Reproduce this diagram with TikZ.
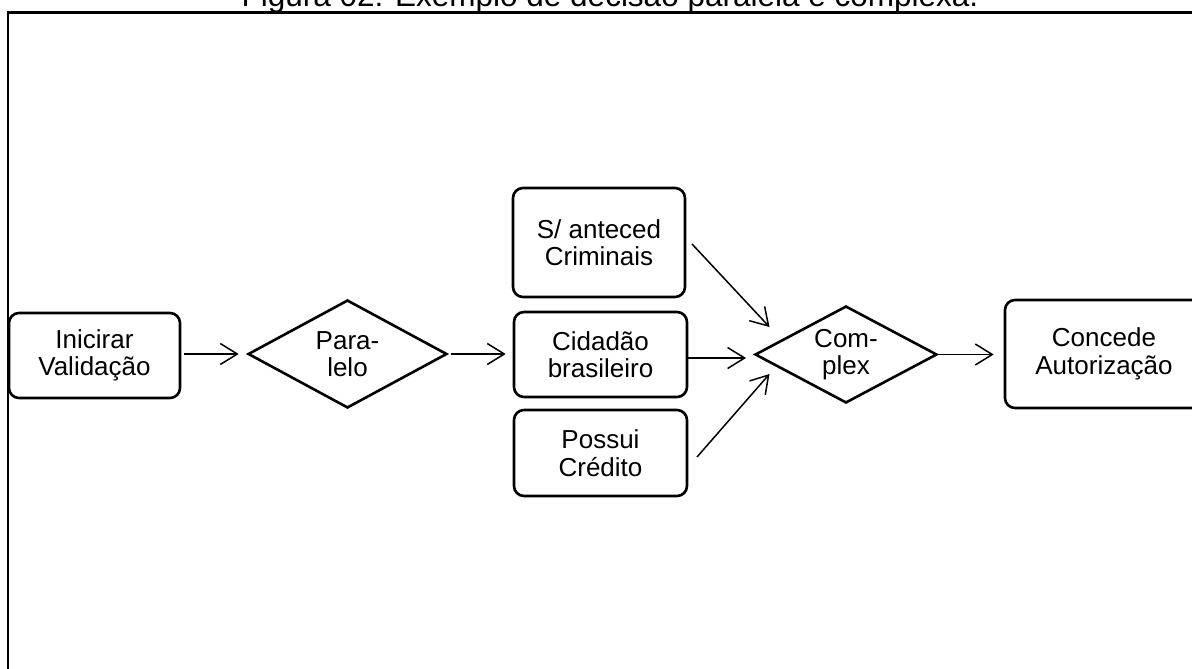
\documentclass[tikz,border=0pt]{standalone}
\usepackage{fontspec}
\setmainfont{Liberation Sans}
\usetikzlibrary{shapes.geometric,arrows.meta}
\newcommand\nfnt{\fontsize{26}{27.5}\selectfont}
\begin{document}
\begin{tikzpicture}[x=1pt,y=-1pt,
  box/.style={draw,line width=2.6pt,rounded corners=10pt,align=center,inner sep=0pt,font=\nfnt},
  dec/.style={draw,diamond,line width=2.6pt,align=center,inner sep=0pt,font=\nfnt},
  arr/.style={line width=1.5pt,-{Straight Barb[length=17pt,width=21pt,line width=1.5pt]}}]
\path[use as bounding box,clip] (0,0) rectangle (1192,669);
\draw[line width=2.4pt] (8,12.5) rectangle (1250,720);
\node[anchor=base,font=\fontsize{31.5}{33}\selectfont] (title) at (610,7) {Figura 02: Exemplo de decisão paralela e complexa.};
\node[box,minimum width=171pt,minimum height=85pt] (ini) at (94.5,355.5) {Inicirar\\Validação};
\node[dec,minimum width=199pt,minimum height=108pt,shape aspect=1.84] (par) at (347.5,354) {Para-\\lelo};
\node[box,minimum width=172pt,minimum height=109pt] (ant) at (599,242.5) {S/ anteced\\Criminais};
\node[box,minimum width=173pt,minimum height=85pt] (cid) at (600.5,354.5) {Cidadão\\brasileiro};
\node[box,minimum width=173pt,minimum height=86pt] (cre) at (600.5,453) {Possui\\Crédito};
\node[dec,minimum width=182pt,minimum height=97pt,shape aspect=1.88] (cpx) at (846,354.5) {Com-\\plex};
\node[box,minimum width=198pt,minimum height=108pt] (con) at (1104,354) {Concede\\Autorização};
\coordinate (a1) at (692,244);
\coordinate (a2) at (769.5,327);
\coordinate (c1) at (688,358);
\coordinate (c2) at (746,358);
\coordinate (p1) at (697,457);
\coordinate (p2) at (769.5,374);
\draw[arr,shorten <=3pt,shorten >=8pt] (ini.east |- par.west) -- (par.west);
\draw[arr,shorten <=3pt,shorten >=7pt] (par.east) -- (par.east -| cid.west);
\draw[arr,shorten >=10pt] (cpx.east) -- (cpx.east -| con.west);
\draw[arr] (a1) -- (a2);
\draw[arr] (c1) -- (c2);
\draw[arr] (p1) -- (p2);
\end{tikzpicture}
\end{document}
